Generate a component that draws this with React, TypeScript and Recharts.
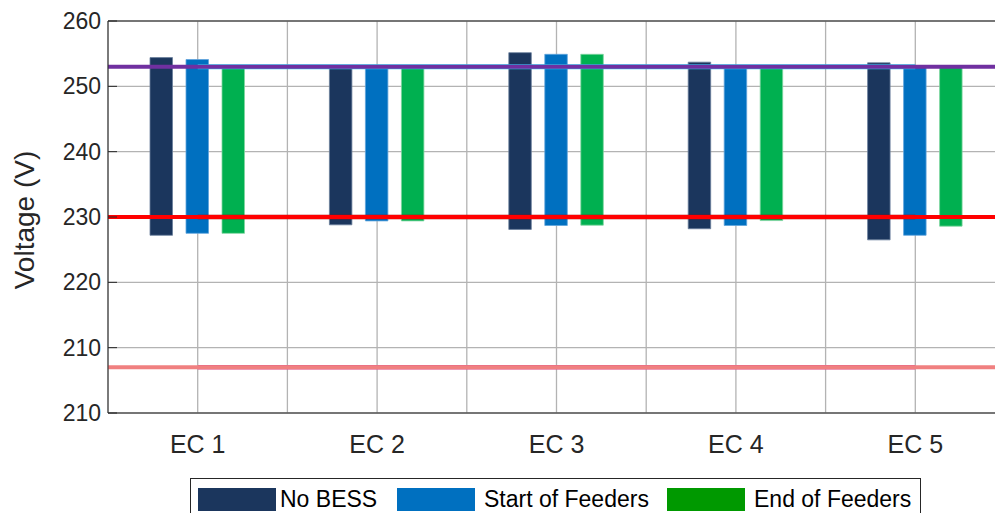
import {
  ComposedChart,
  Bar,
  XAxis,
  YAxis,
  CartesianGrid,
  ReferenceLine,
  Legend,
  Label,
} from 'recharts';

// Voltage range (min / max) per energy community and measurement point
const categories = ['EC 1', 'EC 2', 'EC 3', 'EC 4', 'EC 5'];
const noBessMin = [227.2, 228.8, 228.1, 228.2, 226.5];
const noBessMax = [254.4, 252.9, 255.15, 253.7, 253.6];
const startMin = [227.5, 229.4, 228.7, 228.7, 227.2];
const startMax = [254.1, 252.9, 254.9, 252.9, 252.9];
const endMin = [227.5, 229.4, 228.75, 229.45, 228.6];
const endMax = [252.9, 252.9, 254.9, 252.9, 252.9];

const seriesNames = ['No BESS', 'Start of Feeders', 'End of Feeders'];
const barColors = ['#1b365d', '#0070c0', '#00b050'];
const barEdges = ['#6a7f9c', '#5fa3dc', '#7fd6a0'];
const legendColors = ['#1b365d', '#0070c0', '#009900'];

// Limits
const upperLimit = 253;
const nominal = 230;
const lowerLimit = 207;

const yTicks = [200, 210, 220, 230, 240, 250, 260];
const yTickLabels = ['210', '210', '220', '230', '240', '250', '260'];

const FONT = '"Liberation Sans", Arial, Helvetica, sans-serif';
const TEXT = '#262626';

const chartData = categories.map((name, i) => ({
  name,
  noBess: [noBessMin[i], noBessMax[i]],
  start: [startMin[i], startMax[i]],
  end: [endMin[i], endMax[i]],
}));
const seriesKeys = ['noBess', 'start', 'end'];

// half-band positions: category centres and the boundaries between them
const halfSteps = categories.length * 2;
const minorTicks = Array.from({ length: halfSteps + 1 }, (_, i) => i);

// legend item slot widths and swatch-to-text gaps
const legendSlots = [199, 270, 254];
const legendTextGaps = [4, 9, 9];

function LegendBox() {
  return (
    <div
      style={{
        display: 'flex',
        alignItems: 'center',
        boxSizing: 'border-box',
        height: 42,
        width: 731,
        paddingLeft: 7,
        border: `1px solid ${TEXT}`,
        background: '#fff',
        fontFamily: FONT,
      }}
    >
      {seriesNames.map((name, i) => (
        <div
          key={name}
          style={{ display: 'flex', alignItems: 'center', width: legendSlots[i], flex: 'none' }}
        >
          <span
            style={{
              display: 'inline-block',
              width: 78,
              height: 23,
              marginRight: legendTextGaps[i],
              background: legendColors[i],
            }}
          />
          <span style={{ fontSize: 23, color: '#000', whiteSpace: 'nowrap' }}>{name}</span>
        </div>
      ))}
    </div>
  );
}

function YTitle() {
  return (
    <text
      x={0}
      y={0}
      transform="translate(34 220) rotate(-90)"
      textAnchor="middle"
      fontSize={28}
      fill={TEXT}
      fontFamily={FONT}
    >
      Voltage (V)
    </text>
  );
}

export default function App() {
  return (
    <div
      style={{
        position: 'absolute',
        left: 0,
        top: 0,
        width: 995,
        height: 513,
        overflow: 'hidden',
        background: '#fff',
        fontFamily: FONT,
      }}
    >
      <ComposedChart
        width={1005}
        height={513}
        data={chartData}
        margin={{ top: 20, right: 0, bottom: 98, left: 38 }}
        barSize={22.5}
        barGap={13.5}
      >
        <CartesianGrid
          stroke="#b3b3b3"
          strokeWidth={1.3}
          verticalCoordinatesGenerator={({ offset }: any) =>
            minorTicks.map((i) => offset.left + (i * offset.width) / halfSteps)
          }
        />
        <XAxis
          dataKey="name"
          height={1}
          tickSize={0}
          tickMargin={22}
          axisLine={{ stroke: TEXT, strokeWidth: 1 }}
          tickLine={false}
          tick={{ fontSize: 25, fill: TEXT, fontFamily: FONT }}
        />
        <XAxis
          xAxisId="minor"
          type="number"
          domain={[0, halfSteps]}
          ticks={minorTicks}
          height={1}
          tick={false}
          tickSize={-7}
          axisLine={false}
          tickLine={{ stroke: TEXT, strokeWidth: 1 }}
        />
        <XAxis
          xAxisId="top"
          orientation="top"
          type="number"
          domain={[0, halfSteps]}
          ticks={minorTicks}
          height={1}
          tick={false}
          tickSize={-7}
          axisLine={{ stroke: TEXT, strokeWidth: 1 }}
          tickLine={{ stroke: TEXT, strokeWidth: 1 }}
        />
        <YAxis
          width={70}
          domain={[200, 260]}
          ticks={yTicks}
          interval={0}
          tickSize={-9}
          tickMargin={16}
          tickFormatter={(_v: number, i: number) => yTickLabels[i]}
          axisLine={{ stroke: TEXT, strokeWidth: 1 }}
          tickLine={{ stroke: TEXT, strokeWidth: 1 }}
          tick={{ fontSize: 23, fill: TEXT, fontFamily: FONT }}
        >
          <Label content={<YTitle />} />
        </YAxis>
        {seriesKeys.map((key, i) => (
          <Bar
            key={key}
            dataKey={key}
            name={seriesNames[i]}
            fill={barColors[i]}
            stroke={barEdges[i]}
            strokeWidth={0.8}
            isAnimationActive={false}
          />
        ))}
        <ReferenceLine
          segment={[
            { x: categories[0], y: upperLimit },
            { x: categories[categories.length - 1], y: upperLimit },
          ]}
          stroke="#2fc6ef"
          strokeWidth={5}
        />
        <ReferenceLine y={upperLimit} stroke="#7030a0" strokeWidth={4} />
        <ReferenceLine
          segment={[
            { x: categories[0], y: nominal },
            { x: categories[categories.length - 1], y: nominal },
          ]}
          stroke="#b00000"
          strokeWidth={4.6}
        />
        <ReferenceLine y={nominal} stroke="#ff0000" strokeWidth={4} />
        <ReferenceLine
          segment={[
            { x: categories[0], y: lowerLimit },
            { x: categories[categories.length - 1], y: lowerLimit },
          ]}
          stroke="#d9468f"
          strokeWidth={4.4}
        />
        <ReferenceLine y={lowerLimit} stroke="#f08080" strokeWidth={4} />
        <Legend
          layout="horizontal"
          verticalAlign="middle"
          align="center"
          content={<LegendBox />}
          wrapperStyle={{ left: 190, top: 478, width: 731, height: 42 }}
        />
      </ComposedChart>
    </div>
  );
}
